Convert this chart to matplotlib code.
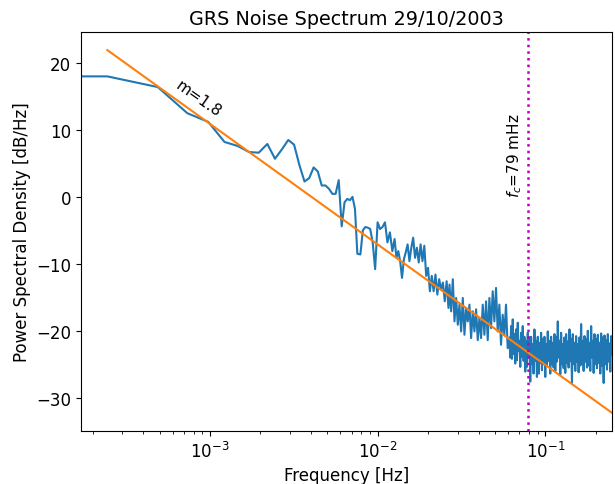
import numpy as np
import matplotlib
matplotlib.use("Agg")
import matplotlib.pyplot as plt

# ---------------- data ----------------
bin_width_hz = 0.25 / 1024          # spectral resolution
first_freq_hz = 1.7e-4              # first plotted point (left edge)
# PSD of first point, then of bins 1..31 (dB/Hz)
low_psd_db = [18.0, 18.0, 16.4, 12.5, 11.2, 8.2, 7.6, 6.7, 6.6, 7.9, 5.7,
              7.1, 8.5, 7.8, 4.7, 2.3, 2.8, 4.4, 3.8, 1.7, 1.7, 1.2, 0.45,
              0.45, 2.5, -4.4, -0.8, -0.3, -0.5, 0.0, -1.8, -8.5]

seg1_range_hz = (7.89e-3, 0.01224)
seg1_psd_db = [-8.6, -5.0, -4.5, -4.6, -4.8, -6.8, -10.8, -3.8, -4.8, -4.5,
               -3.8, -6.8, -5.3, -8.1]

seg2_range_hz = (0.01262, 0.02646)
seg2_psd_db = [-6.3, -9.1, -8.1, -9.6, -12.1, -9.3, -8.3, -7.1, -9.6, -7.6,
               -6.1, -9.1, -7.6, -9.8, -7.1, -9.6, -7.3, -11.8, -10.6, -14.1,
               -11.8, -14.1, -11.6, -14.6, -12.3, -13.8, -12.8, -15.6, -12.6,
               -16.6]

seg3_range_hz = (0.02683, 0.05966)
seg3_psd_db = [-13.1, -17.1, -12.3, -18.6, -15.1, -19.1, -16.1, -20.1, -15.1,
               -20.6, -16.6, -18.6, -16.1, -21.1, -17.1, -20.1, -16.8, -21.4,
               -18.1, -21.1, -16.1, -20.6, -15.6, -21.4, -15.1, -19.6, -14.1,
               -18.6, -13.6, -20.1, -16.1, -22.1, -17.6, -20.6, -16.1, -22.6]

seg4_range_hz = (0.0611, 0.25)
seg4_psd_db = [-21.0, -24.0, -19.3, -24.2, -18.3, -23.5, -20.5, -24.9, -19.8, -24.4,
               -18.8, -23.0, -21.5, -25.4, -20.3, -23.9, -19.3, -24.5, -20.9, -26.1,
               -21.5, -25.4, -20.3, -24.0, -21.0, -27.6, -20.9, -25.0, -22.0, -26.4,
               -19.8, -24.5, -21.5, -26.9, -20.9, -26.4, -21.8, -24.8, -20.3, -25.9,
               -21.2, -25.0, -20.9, -26.9, -22.0, -25.2, -20.1, -24.5, -21.5, -26.4,
               -20.9, -25.0, -21.8, -25.5, -20.5, -26.0, -21.0, -24.6, -18.6, -24.0,
               -21.5, -26.5, -20.3, -25.0, -22.0, -25.6, -21.0, -26.3, -20.5, -24.8,
               -21.6, -25.5, -19.8, -24.5, -21.2, -27.8, -20.5, -25.0, -21.8, -26.0,
               -20.8, -24.6, -22.0, -26.2, -21.0, -25.2, -19.0, -25.0, -21.5, -26.0,
               -20.8, -24.6, -21.3, -25.5, -20.0, -25.2, -21.8, -26.0, -19.3, -24.0,
               -21.5, -26.3, -20.5, -25.0, -21.2, -25.6, -20.6, -24.8, -21.8, -26.4,
               -20.4, -25.2, -21.0, -27.8, -20.7, -25.0, -21.4, -25.8, -20.5, -24.6,
               -21.9, -26.1, -20.8, -23.5]

# power-law fit
fit_slope_m = 1.8
fit_ref_freq_hz = 1e-3
fit_ref_db = 10.9
corner_freq_hz = 0.079

title = "GRS Noise Spectrum 29/10/2003"
xlabel = "Frequency [Hz]"
ylabel = "Power Spectral Density [dB/Hz]"

# ---------------- build arrays ----------------
low_freq = np.concatenate([[first_freq_hz],
                           np.arange(1, len(low_psd_db)) * bin_width_hz])
segs = [(seg1_range_hz, seg1_psd_db), (seg2_range_hz, seg2_psd_db),
        (seg3_range_hz, seg3_psd_db), (seg4_range_hz, seg4_psd_db)]
freq = [low_freq] + [np.geomspace(r[0], r[1], len(v)) for r, v in segs]
psd = [np.array(low_psd_db)] + [np.array(v) for _, v in segs]
freq = np.concatenate(freq)
psd = np.concatenate(psd)

fit_freq = freq[freq >= bin_width_hz * 0.999]
fit_db = fit_ref_db - 10 * fit_slope_m * np.log10(fit_freq / fit_ref_freq_hz)

# ---------------- plot ----------------
plt.rcParams["font.size"] = 12
fig = plt.figure(figsize=(6.15, 4.85), dpi=100)
ax = fig.add_subplot(111)
fig.subplots_adjust(left=0.1317, right=0.9951, bottom=0.1093, top=0.932)

ax.plot(freq, psd, color="#1f77b4", lw=1.5)
ax.plot(fit_freq, fit_db, color="#ff7f0e", lw=1.5)
ax.axvline(corner_freq_hz, color="m", ls=":", lw=1.8)

ax.set_xscale("log")
ax.set_xlim(first_freq_hz, seg4_range_hz[1])

ax.text(8.5e-4, 14.7, f"m={fit_slope_m}", rotation=-35,
        ha="center", va="center", fontsize=11)
ax.text(0.0654, 0.0, r"$f_c$=79 mHz", rotation=90,
        ha="center", va="bottom", fontsize=11)

ax.set_title(title, fontsize=13.8)
ax.set_xlabel(xlabel)
ax.set_ylabel(ylabel)

fig.savefig("out.png", dpi=100)
